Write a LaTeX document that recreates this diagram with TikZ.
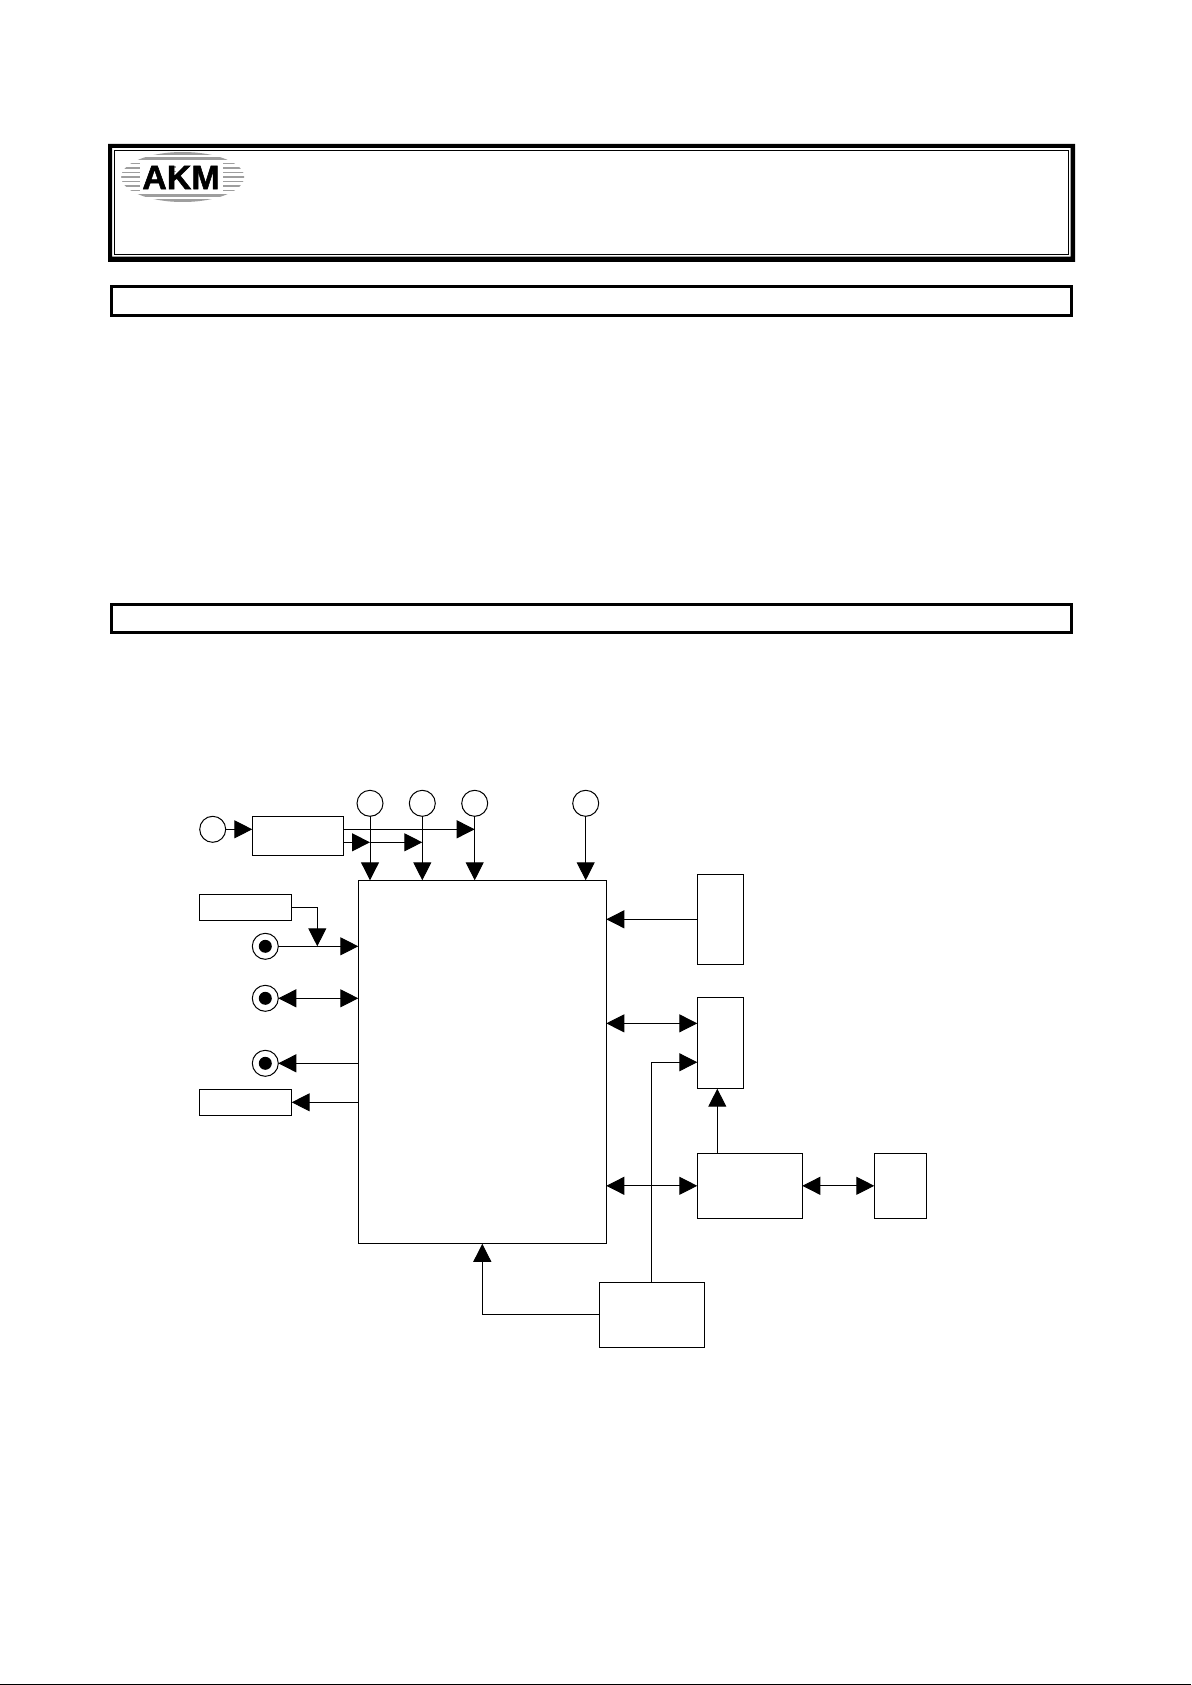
\documentclass[tikz,border=0pt]{standalone}
\usepackage{fontspec}
\usetikzlibrary{arrows.meta,calc}
\newfontfamily\logofont[FakeBold=1.5]{Liberation Sans Bold}
\tikzset{
  x=1pt,y=-1pt,
  wire/.style={line width=1pt,black,line cap=butt},
  one/.style={wire,-{Triangle[length=18pt,width=18pt]}},
  two/.style={wire,{Triangle[length=18pt,width=18pt]}-{Triangle[length=18pt,width=18pt]}},
  blockbox/.style={draw=black,line width=1pt,fill=white,inner sep=0pt,outer sep=0pt},
  barbox/.style={draw=black,line width=3pt,inner sep=0pt,outer sep=0pt},
  pin/.style={circle,draw=black,line width=1pt,fill=white,minimum size=26pt,inner sep=0pt,outer sep=0pt},
  stripe/.style={draw=black!38,line width=2.6pt},
  thinstripe/.style={draw=black!38,line width=1.5pt}
}
\newcommand{\blk}[6][blockbox]{%
  \pgfmathsetmacro{\bw}{#5-#3}\pgfmathsetmacro{\bh}{#6-#4}%
  \node[#1,minimum width=\bw pt,minimum height=\bh pt,anchor=north west] (#2) at (#3,#4) {};}
\begin{document}
\begin{tikzpicture}
\useasboundingbox (0,0) rectangle (1191,1685);
\fill[white] (0,0) rectangle (1191,1685);
% title frame
\fill[black,even odd rule] (108,144) rectangle (1075,262) (112,148) rectangle (1070.7,256.7);
\draw[line width=1pt] (114.5,150.3) rectangle (1068.5,254.5);
% logo
\begin{scope}
\clip (182.7,177) ellipse [x radius=61.5,y radius=25];
\foreach \yy in {153.5,158.5,195.5,200.5}{
  \draw[stripe] (115,\yy) -- (250,\yy);
}
\foreach \yy in {163.5,168,172.5,177,181.5,186,190.5}{
  \draw[thinstripe] (115,\yy) -- (250,\yy);
}
\end{scope}
\fill[white] (140,163.5) rectangle (223,191.5);
\foreach \yy in {167,171.5,176}{
  \draw[thinstripe] (172,\yy) -- (176,\yy);
}
\node[inner sep=0pt,outer sep=0pt] (logo) at (181,177.5) {\logofont\fontsize{34pt}{34pt}\selectfont AKM};
% section bars
\blk[barbox]{bara}{111.5}{286.5}{1071.2}{315.2}
\blk[barbox]{barb}{111.5}{604.5}{1071.2}{632.2}
% blocks
\blk{main}{358.3}{880.3}{606.3}{1243.3}
\blk{osc}{252.3}{816.3}{343.7}{855.3}
\blk{bxa}{199.3}{894.3}{291.7}{920.3}
\blk{bxb}{199.3}{1089.3}{291.7}{1115.3}
\blk{ra}{697.3}{874.3}{743.3}{964.3}
\blk{rb}{697.3}{997.4}{743.3}{1088.7}
\blk{rc}{697.3}{1153.3}{802.3}{1218.3}
\blk{rd}{874.3}{1153.3}{926.7}{1218.3}
\blk{re}{599.3}{1282.3}{704.3}{1347.3}
% pins
\node[pin] (c0) at (212.7,829.3) {};
\node[pin] (c1) at (370,803.3) {};
\node[pin] (c2) at (422.3,803.3) {};
\node[pin] (c3) at (474.7,803.3) {};
\node[pin] (c4) at (585.7,803.3) {};
\node[pin] (ta) at (265.3,946.3) {};
\node[pin] (tb) at (265.3,998.3) {};
\node[pin] (tc) at (265.3,1063.3) {};
\foreach \t in {ta,tb,tc}{\fill (\t) circle (6.5pt);}
% free points
\coordinate (oscu) at ([yshift=6.5pt]osc.east);
\coordinate (oscl) at ([yshift=-6.5pt]osc.east);
\coordinate (ja) at (317.3,946.3);
\coordinate (ca) at (ja |- bxa.east);
\coordinate (rbu) at ([yshift=19.7pt]rb.west);
\coordinate (rbl) at ([yshift=-19.2pt]rb.west);
\coordinate (ren) at (651.3,1282.3);
\coordinate (rcn) at (717.3,1153.3);
\coordinate (bt) at (482.3,1243.8);
\coordinate (rew) at (re.west);
% connectors
\draw[one] (c0) ++(13,0) -- (c0 -| osc.west);
\draw[one] (oscu) -- (oscu -| c3);
\draw[one] (oscl) -- (oscl -| c1);
\draw[one] (oscl -| c1) -- (oscl -| c2);
\draw[one] (c1.south) -- (c1 |- main.north);
\draw[one] (c2.south) -- (c2 |- main.north);
\draw[one] (c3.south) -- (c3 |- main.north);
\draw[one] (c4.south) -- (c4 |- main.north);
\draw[wire] (bxa.east) -- (ca);
\draw[one] (ca) -- (ja);
\draw[one] (ta.east) -- (ta -| main.west);
\draw[two] (tb.east) -- (tb -| main.west);
\draw[one] (tc -| main.west) -- (tc.east);
\draw[one] (bxb.east -| main.west) -- (bxb.east);
\draw[one] (ra.west) -- (ra.west -| main.east);
\draw[two] (rbu -| main.east) -- (rbu);
\draw[wire] (ren) -- (ren |- rbl);
\draw[one] (ren |- rbl) -- (rbl);
\draw[one] (rcn) -- (rcn |- rb.south);
\draw[two] (rc.west -| main.east) -- (rc.west);
\draw[two] (rc.east) -- (rd.west);
\draw[wire] (rew) -- (rew -| bt);
\draw[one] (rew -| bt) -- (bt);
% page edge
\fill[black] (0,1684) rectangle (1191,1685);
\end{tikzpicture}
\end{document}
